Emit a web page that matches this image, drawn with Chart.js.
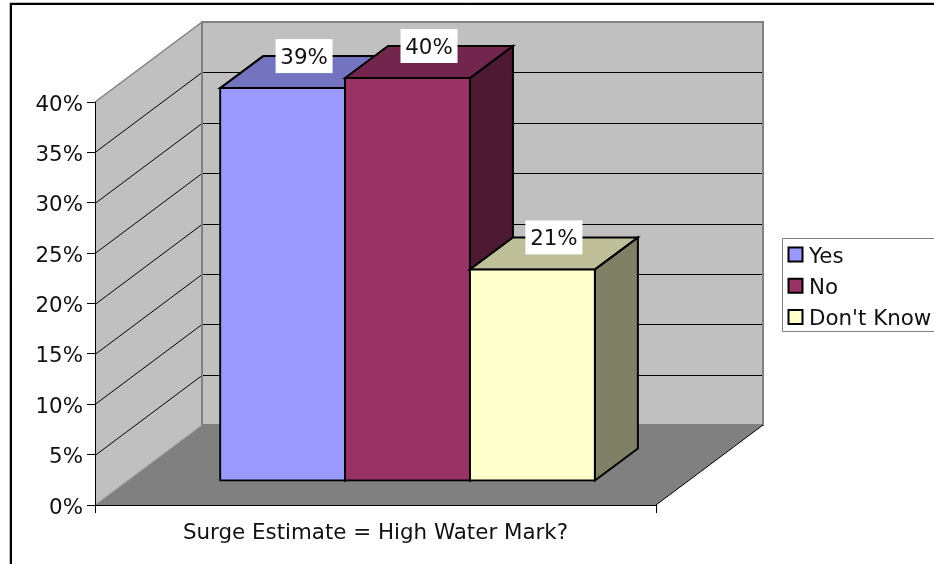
<!DOCTYPE html>
<html>
<head>
<meta charset="utf-8">
<title>Surge Estimate</title>
<script src="https://cdn.jsdelivr.net/npm/chart.js@4"></script>
<style>
  html, body { margin: 0; padding: 0; background: #fff; }
  canvas { display: block; }
</style>
</head>
<body>
<canvas id="chart-1" width="934" height="564"></canvas>
<script>
const categories = ['Surge Estimate = High Water Mark?'];
const seriesNames = ['Yes', 'No', "Don't Know"];
const yesValues = [39];
const noValues = [40];
const dontKnowValues = [21];

const frontColors = ['#9999FF', '#993366', '#FFFFCC'];
const topColors = ['#7373BF', '#73264D', '#BFBF99'];
const sideColors = ['#4D4D80', '#4D1A33', '#808066'];

const FONT_FAMILY = '"DejaVu Sans", Verdana, sans-serif';
const FONT_SIZE = 21.4;
const TEXT_COLOR = '#111';

// depth of the box the chart sits in, and of the bars inside it
const WALL_DX = 107, WALL_DY = -80;
const FLOOR_DX = 32, FLOOR_DY = -24;
const BAR_DX = 43, BAR_DY = -32;

function poly(ctx, pts, fill, stroke, lineWidth) {
  ctx.beginPath();
  pts.forEach((p, i) => i ? ctx.lineTo(p[0], p[1]) : ctx.moveTo(p[0], p[1]));
  ctx.closePath();
  if (fill) {
    ctx.fillStyle = fill;
    ctx.fill();
  }
  if (stroke) {
    ctx.strokeStyle = stroke;
    ctx.lineWidth = lineWidth;
    ctx.lineJoin = 'miter';
    ctx.stroke();
  }
}

function line(ctx, x1, y1, x2, y2, color, width) {
  ctx.beginPath();
  ctx.moveTo(x1, y1);
  ctx.lineTo(x2, y2);
  ctx.strokeStyle = color;
  ctx.lineWidth = width;
  ctx.stroke();
}

const box3d = {
  id: 'box3d',

  // outer frame, walls, floor and gridlines
  beforeDraw(chart) {
    const { ctx, chartArea: a, scales: { y } } = chart;
    const l = a.left, r = a.right, t = a.top, b = a.bottom;
    const dx = WALL_DX, dy = WALL_DY;

    ctx.save();
    line(ctx, 9.5, 564, 9.5, 2.5, '#C0C0C0', 1);
    line(ctx, 9.5, 2.5, 934, 2.5, '#C0C0C0', 1);
    line(ctx, 11, 564, 11, 4, '#000', 2);
    line(ctx, 10, 4, 934, 4, '#000', 2);

    poly(ctx, [[l + dx, t + dy], [r + dx, t + dy], [r + dx, b + dy], [l + dx, b + dy]], '#C0C0C0', '#808080', 2);
    poly(ctx, [[l, t], [l + dx, t + dy], [l + dx, b + dy], [l, b]], '#C0C0C0');
    line(ctx, l, t, l + dx, t + dy, '#808080', 1.5);

    y.ticks.forEach(tick => {
      if (tick.value === y.min || tick.value === y.max) return;
      const py = Math.round(y.getPixelForValue(tick.value)) + 0.5;
      line(ctx, l, py, l + dx, py + dy, '#000', 1);
      line(ctx, l + dx + 1, py + dy, r + dx - 1, py + dy, '#000', 1);
    });

    line(ctx, l + dx, t + dy, l + dx, b + dy, '#808080', 2);
    poly(ctx, [[l, b], [r, b], [r + dx, b + dy], [l + dx, b + dy]], '#808080');
    line(ctx, l, b, l + dx, b + dy, '#A0A0A0', 1);
    line(ctx, r, b, r + dx, b + dy, '#000', 1);
    ctx.restore();
  },

  // paints the bars left to right, each with its top and side faces,
  // with the front face moved back onto the floor
  beforeDatasetsDraw(chart) {
    const { ctx } = chart;
    chart.data.datasets.forEach((ds, i) => {
      const meta = chart.getDatasetMeta(i);
      ctx.save();
      meta.data.forEach(bar => {
        const p = bar.getProps(['x', 'y', 'base', 'width'], true);
        const x1 = p.x - p.width / 2 + FLOOR_DX;
        const x2 = p.x + p.width / 2 + FLOOR_DX;
        const yt = p.y + FLOOR_DY;
        const yb = p.base + FLOOR_DY;
        poly(ctx, [[x2, yt], [x2 + BAR_DX, yt + BAR_DY], [x2 + BAR_DX, yb + BAR_DY], [x2, yb]], sideColors[i], '#000', 2);
        poly(ctx, [[x1, yt], [x1 + BAR_DX, yt + BAR_DY], [x2 + BAR_DX, yt + BAR_DY], [x2, yt]], topColors[i], '#000', 2);
      });
      ctx.translate(FLOOR_DX, FLOOR_DY);
      meta.controller.draw();
      ctx.restore();
    });

    // value labels on white boxes at the back edge of each bar top
    ctx.save();
    ctx.font = `${FONT_SIZE}px ${FONT_FAMILY}`;
    ctx.textAlign = 'center';
    ctx.textBaseline = 'middle';
    chart.data.datasets.forEach((ds, i) => {
      chart.getDatasetMeta(i).data.forEach((bar, j) => {
        const p = bar.getProps(['x', 'y'], true);
        const cx = p.x + FLOOR_DX + BAR_DX / 2;
        const cy = p.y + FLOOR_DY + BAR_DY;
        ctx.fillStyle = '#fff';
        ctx.fillRect(cx - 28.5, cy - 17, 57, 34);
        ctx.fillStyle = TEXT_COLOR;
        ctx.fillText(ds.data[j] + '%', cx, cy + 2);
      });
    });
    ctx.restore();
    return false;
  },

  // legend box, runs off the right edge
  afterDraw(chart) {
    const { ctx } = chart;
    ctx.save();
    poly(ctx, [[782.5, 238.5], [940, 238.5], [940, 331.5], [782.5, 331.5]], '#fff', '#808080', 1);
    ctx.font = `${FONT_SIZE}px ${FONT_FAMILY}`;
    ctx.textAlign = 'left';
    ctx.textBaseline = 'middle';
    chart.data.datasets.forEach((ds, i) => {
      const rowY = 254.5 + i * 31.3;
      poly(ctx, [[788.5, rowY - 7], [802.5, rowY - 7], [802.5, rowY + 7], [788.5, rowY + 7]], frontColors[i], '#000', 2);
      ctx.fillStyle = TEXT_COLOR;
      ctx.fillText(ds.label, 809, rowY + 2.5);
    });
    ctx.restore();
  }
};

const ctx_1 = document.getElementById('chart-1').getContext('2d');

new Chart(ctx_1, {
  type: 'bar',
  plugins: [box3d],
  data: {
    labels: categories,
    datasets: [
      { label: seriesNames[0], data: yesValues, backgroundColor: frontColors[0] },
      { label: seriesNames[1], data: noValues, backgroundColor: frontColors[1] },
      { label: seriesNames[2], data: dontKnowValues, backgroundColor: frontColors[2] }
    ]
  },
  options: {
    responsive: false,
    animation: false,
    layout: { padding: { left: 0, top: 102, right: 278, bottom: 0 } },
    datasets: {
      bar: {
        borderColor: '#000',
        borderWidth: 2,
        borderSkipped: false,
        inflateAmount: 1,
        categoryPercentage: 0.668,
        barPercentage: 1
      }
    },
    plugins: {
      legend: { display: false },
      tooltip: { enabled: false }
    },
    scales: {
      x: {
        afterFit: (scale) => { scale.height = 59; },
        grid: { drawOnChartArea: false, tickLength: 8, color: '#000', offset: true },
        border: { color: '#000', width: 1 },
        ticks: {
          color: TEXT_COLOR,
          padding: 8,
          maxRotation: 0,
          font: { family: FONT_FAMILY, size: FONT_SIZE }
        }
      },
      y: {
        min: 0,
        max: 40,
        afterFit: (scale) => { scale.width = 95; },
        grid: { drawOnChartArea: false, tickLength: 8, color: '#000' },
        border: { color: '#000', width: 1 },
        ticks: {
          stepSize: 5,
          color: TEXT_COLOR,
          padding: 4,
          labelOffset: 3,
          font: { family: FONT_FAMILY, size: FONT_SIZE },
          callback: (value) => `${value}%`
        }
      }
    }
  }
});
</script>
</body>
</html>
